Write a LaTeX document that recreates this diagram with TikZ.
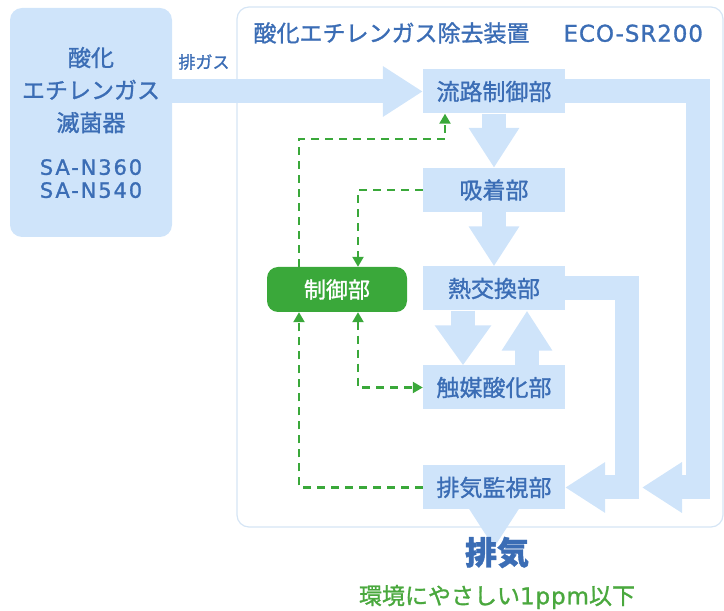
\documentclass[tikz,border=0pt]{standalone}
\usepackage{fontspec}
\setmainfont{Noto Sans CJK JP}[FakeBold=1.2]
\newfontfamily\latn[LetterSpace=4, FakeBold=1.2]{DejaVu Sans}
\newfontfamily\latnwide[LetterSpace=9, FakeBold=1.2]{DejaVu Sans}
\usetikzlibrary{arrows.meta}
\definecolor{pipeblue}{HTML}{CFE4FA}
\definecolor{textblue}{HTML}{3B6DB5}
\definecolor{framegray}{HTML}{D5E5F5}
\definecolor{ctlgreen}{HTML}{3AA83A}
\definecolor{ecogreen}{HTML}{4AA83E}

\begin{document}
\begin{tikzpicture}[x=1pt, y=1pt, >={Triangle[width=11pt,length=10pt]},
		unit/.style={fill=pipeblue, text=textblue, minimum width=142pt, minimum height=44pt, inner sep=0pt, font=\fontsize{23}{28}\selectfont},
		pipe/.style={draw=pipeblue, line width=24pt, -{Triangle[width=48pt,length=40pt]}},
		sig/.style={draw=ctlgreen, line width=2.2pt, dash pattern=on 8pt off 6pt}]
\useasboundingbox (0,0) rectangle (724,611);
\draw[framegray, line width=1.2pt, rounded corners=12pt] (237,84) rectangle (723,604);

\node[fill=pipeblue, text=textblue, rounded corners=12pt, minimum width=162pt, minimum height=229pt, align=center, font=\fontsize{23}{32.5}\selectfont] (steril) at (91,488.5)
	{酸化\\エチレンガス\\滅菌器\\[11pt]{\latnwide\fontsize{21}{24}\selectfont SA-N360}\\[-9.5pt]{\latnwide\fontsize{21}{24}\selectfont SA-N540}};
\node[text=textblue, font=\fontsize{17}{18}\selectfont] (gaslbl) at (204,549) {排ガス};
\node[anchor=west, text=textblue, font=\fontsize{23}{28}\selectfont] (title) at (250,578) {酸化エチレンガス除去装置\hspace{34pt}{\latn ECO-SR200}};

\node[unit] (flow) at (494,519.5) {流路制御部};
\node[unit] (ads) at (494,421) {吸着部};
\node[unit] (heat) at (494,322.5) {熱交換部};
\node[unit] (cat) at (494,223.5) {触媒酸化部};
\node[unit] (mon) at (494,123.5) {排気監視部};
\node[fill=ctlgreen, text=white, rounded corners=11pt, minimum width=140pt, minimum height=45pt, inner sep=0pt, font=\fontsize{22}{26}\selectfont] (ctrl) at (337,321.5) {制御部};

\coordinate (byp) at (642,123.5);
\coordinate (out) at (494,63);

\draw[pipe] (steril.east |- flow.west) -- (flow.west);
\draw[pipe] (flow.south) -- (ads.north);
\draw[pipe] (ads.south) -- (heat.north);
\draw[pipe, -{Triangle[width=54pt,length=40pt]}] ([xshift=-31pt]heat.south) -- ([xshift=-31pt]cat.north);
\draw[pipe] ([xshift=33pt]cat.north) -- ([xshift=33pt]heat.south);
\draw[pipe] (flow.east) -- ++(133,0) |- (byp);
\draw[pipe] (heat.east) -- ++(62,0) |- (mon.east);
\draw[pipe] (mon.south) -- (out);

\draw[sig, ->] ([xshift=-38pt]ctrl.north) -- ++(0,128) -| ([xshift=-49pt]flow.south);
\draw[sig, ->] (ads.west) -| ([xshift=21pt]ctrl.north);
\draw[sig, <->] ([xshift=21pt]ctrl.south) |- (cat.west);
\draw[sig, ->] (mon.west) -| ([xshift=-38pt]ctrl.south);

\node[text=textblue, font=\fontsize{32}{36}\selectfont\bfseries] (exhaust) at (497,58.5) {排気};
\node[text=ecogreen, font=\fontsize{23}{26}\selectfont] (eco) at (497,14) {環境にやさしい{\latn 1ppm}以下};
\end{tikzpicture}
\end{document}
